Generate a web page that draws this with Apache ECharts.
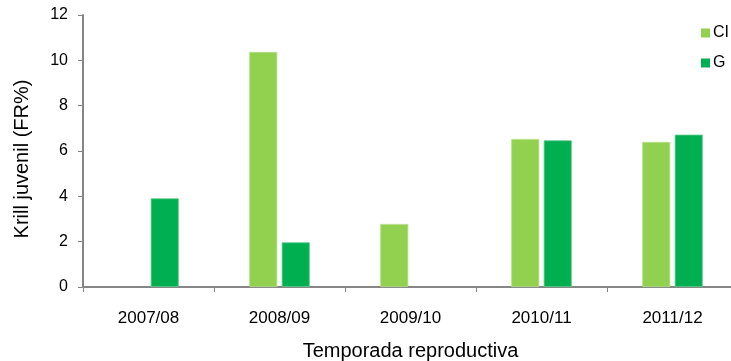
<!DOCTYPE html>
<html>
<head>
<meta charset="utf-8">
<script src="https://cdn.jsdelivr.net/npm/echarts@6/dist/echarts.min.js"></script>
<style>
  html, body { margin: 0; padding: 0; background: #ffffff; }
  #chart { width: 731px; height: 361px; }
</style>
</head>
<body>
<div id="chart"></div>
<script>
// Juvenile krill frequency by breeding season
const seasons = ['2007/08', '2008/09', '2009/10', '2010/11', '2011/12'];
const valuesCI = [null, 10.37, 2.78, 6.53, 6.40];
const valuesG = [3.91, 1.97, null, 6.47, 6.72];
const yTicks = [0, 2, 4, 6, 8, 10, 12];

const axisGray = '#868686';
const font = '"Liberation Sans", Arial, sans-serif';

const chart = echarts.init(document.getElementById('chart'), null, { renderer: 'canvas' });

chart.setOption({
  animation: false,
  backgroundColor: '#ffffff',
  textStyle: { fontFamily: font },
  grid: {
    left: 83, top: 15, width: 655, height: 272,
    containLabel: false,
    outerBoundsMode: 'none'
  },
  legend: {
    orient: 'vertical',
    left: 696,
    top: 20,
    itemWidth: 9,
    itemHeight: 9,
    itemGap: 14,
    icon: 'rect',
    itemStyle: { borderWidth: 0 },
    textStyle: { fontSize: 16, lineHeight: 16, color: '#000', fontFamily: font, padding: [0, 0, 0, -2] },
    data: ['CI', 'G']
  },
  xAxis: {
    type: 'category',
    data: seasons,
    name: 'Temporada reproductiva',
    nameLocation: 'middle',
    nameGap: 54,
    nameTextStyle: { fontSize: 20, color: '#000', fontFamily: font },
    axisLine: { lineStyle: { color: axisGray, width: 2 } },
    axisTick: { show: true, length: 5, alignWithLabel: false, lineStyle: { color: axisGray, width: 1 } },
    axisLabel: { fontSize: 17, color: '#000', margin: 23, fontFamily: font }
  },
  yAxis: {
    type: 'value',
    min: yTicks[0],
    max: yTicks[yTicks.length - 1],
    interval: 2,
    name: 'Krill juvenil (FR%)',
    nameLocation: 'middle',
    nameGap: 51,
    nameRotate: 90,
    nameTextStyle: { fontSize: 20, color: '#000', fontFamily: font, padding: [0, 16, 0, 0] },
    splitLine: { show: false },
    axisLine: { show: true, lineStyle: { color: axisGray, width: 2 } },
    axisTick: { show: true, length: 5, inside: false, lineStyle: { color: axisGray, width: 1 } },
    axisLabel: { fontSize: 16, color: '#000', margin: 15, fontFamily: font }
  },
  series: [
    {
      name: 'CI',
      type: 'bar',
      data: valuesCI,
      barWidth: 28,
      barGap: '16%',
      itemStyle: { color: '#92D050', borderColor: '#b3df85', borderWidth: 0.8 }
    },
    {
      name: 'G',
      type: 'bar',
      data: valuesG,
      barWidth: 28,
      barGap: '16%',
      itemStyle: { color: '#00B050', borderColor: '#5ccb8a', borderWidth: 0.8 }
    }
  ]
});
</script>
</body>
</html>
